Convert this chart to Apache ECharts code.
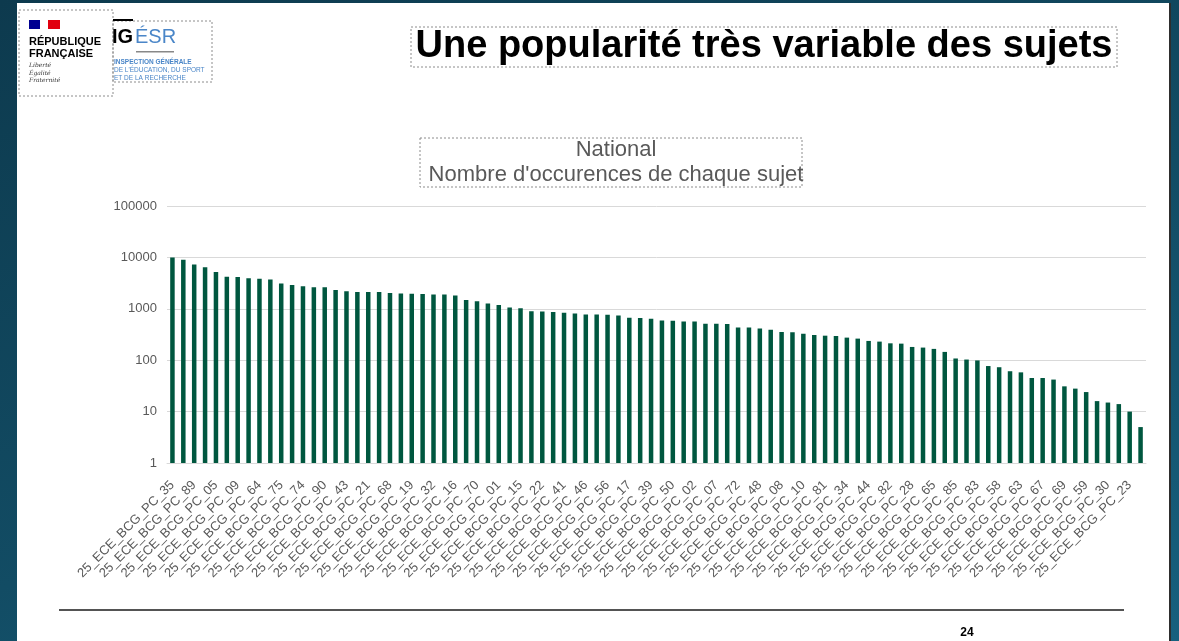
<!DOCTYPE html>
<html>
<head>
<meta charset="utf-8">
<script src="https://cdn.jsdelivr.net/npm/echarts@6/dist/echarts.min.js"></script>
<style>
  html, body { margin: 0; padding: 0; }
  body { width: 1179px; height: 641px; overflow: hidden;
    background: linear-gradient(160deg, #0d3a4e 0%, #124c64 55%, #17607e 100%); }
  #chart { width: 1179px; height: 641px; }
</style>
</head>
<body>
<div id="chart"></div>
<script>
// sujets, dans l'ordre décroissant (une étiquette sur deux est visible)
var sujets = [
  '35', '03', '89', '04', '05', '06', '09', '11', '64', '12',
  '75', '13', '74', '14', '90', '18', '43', '20', '21', '24',
  '68', '25', '19', '26', '32', '27', '16', '29', '70', '31',
  '01', '33', '15', '36', '22', '37', '41', '38', '46', '40',
  '56', '42', '17', '45', '39', '47', '50', '49', '02', '51',
  '07', '52', '72', '53', '48', '54', '08', '55', '10', '57',
  '81', '60', '34', '61', '44', '62', '82', '66', '28', '71',
  '65', '73', '85', '76', '83', '77', '58', '78', '63', '79',
  '67', '80', '69', '84', '59', '86', '30', '87', '23', '88'
];
var categories = sujets.map(function(s) { return '25_ECE_BCG_PC_' + s; });

var occurences = [
  10000, 9000, 7300, 6400, 5200, 4220, 4160, 3920, 3860, 3700,
  3090, 2910, 2750, 2630, 2620, 2330, 2200, 2130, 2130, 2120,
  2040, 1980, 1960, 1940, 1890, 1890, 1810, 1490, 1400, 1270,
  1190, 1060, 1030, 900, 887, 862, 837, 812, 777, 775,
  765, 743, 670, 660, 640, 594, 586, 568, 566, 512,
  510, 505, 435, 433, 416, 392, 353, 348, 328, 309,
  300, 296, 275, 263, 237, 230, 213, 210, 181, 176,
  166, 145, 108, 103, 99, 77, 73, 61, 58, 45,
  45, 42, 31, 28, 24, 16, 15, 14, 10, 5
];

var yTicks = [1, 10, 100, 1000, 10000, 100000];

var grisTexte = '#595959';
var vert = '#00573f';
var pointille = { stroke: '#8c8c8c', lineWidth: 1, lineDash: [2, 2] };

var myChart = echarts.init(document.getElementById('chart'));

var option = {
  animation: false,
  textStyle: { fontFamily: '"Liberation Sans", Arial, sans-serif' },
  title: {
    text: 'National\nNombre d\'occurences de chaque sujet',
    left: 611, textAlign: 'center', top: 132,
    textStyle: { color: grisTexte, fontSize: 22, fontWeight: 'normal', lineHeight: 25,
      fontFamily: '"Liberation Sans", Arial, sans-serif' }
  },
  grid: { left: 167, right: 33, top: 206, bottom: 178 },
  xAxis: {
    type: 'category',
    data: categories,
    axisTick: { show: false },
    axisLine: { lineStyle: { color: '#d9d9d9' } },
    axisLabel: { interval: 1, rotate: 45, fontSize: 13, color: grisTexte, margin: 20 }
  },
  yAxis: {
    type: 'log',
    logBase: 10,
    min: 1,
    max: 100000,
    axisLine: { show: false },
    axisTick: { show: false },
    splitLine: { lineStyle: { color: '#d9d9d9' } },
    axisLabel: {
      fontSize: 13, color: grisTexte, margin: 10,
      formatter: function(v) { return yTicks.indexOf(v) >= 0 ? String(v) : ''; }
    }
  },
  series: [{
    type: 'bar',
    data: occurences,
    barWidth: 4.5,
    itemStyle: { color: vert }
  }],
  graphic: [
    // diapositive
    { type: 'rect', z: -10, shape: { x: 17, y: 3, width: 1152, height: 650 }, style: { fill: '#ffffff' } },
    { type: 'rect', z: -9, shape: { x: 1169, y: 3, width: 2, height: 650 }, style: { fill: '#2e2e2e' } },
    // logo République française
    { type: 'rect', shape: { x: 19, y: 10, width: 94, height: 86 }, style: { fill: null, stroke: pointille.stroke, lineWidth: 1, lineDash: pointille.lineDash } },
    { type: 'rect', shape: { x: 29, y: 20, width: 11, height: 9 }, style: { fill: '#000091' } },
    { type: 'rect', shape: { x: 48, y: 20, width: 12, height: 9 }, style: { fill: '#e1000f' } },
    { type: 'text', style: { x: 29, y: 36, text: 'RÉPUBLIQUE\nFRANÇAISE', fill: '#000000', font: 'bold 11px "Liberation Sans", Arial', lineHeight: 12 } },
    { type: 'text', style: { x: 29, y: 62, text: 'Liberté\nÉgalité\nFraternité', fill: '#333333', font: 'italic 6px "DejaVu Serif", serif', lineHeight: 7.5 } },
    // logo IGÉSR
    { type: 'rect', shape: { x: 113, y: 21, width: 99, height: 61 }, style: { fill: null, stroke: pointille.stroke, lineWidth: 1, lineDash: pointille.lineDash } },
    { type: 'rect', shape: { x: 113, y: 19, width: 20, height: 2 }, style: { fill: '#000000' } },
    { type: 'text', style: { x: 112, y: 27, text: 'IG', fill: '#000000', font: 'bold 20px "Liberation Sans", Arial' } },
    { type: 'text', style: { x: 135, y: 27, text: 'ÉSR', fill: '#4a86c8', font: '20px "Liberation Sans", Arial' } },
    { type: 'rect', shape: { x: 136, y: 51, width: 38, height: 1.5 }, style: { fill: '#888888' } },
    { type: 'text', style: { x: 114, y: 59, text: 'INSPECTION GÉNÉRALE', fill: '#4a86c8', font: 'bold 6.5px "Liberation Sans", Arial' } },
    { type: 'text', style: { x: 114, y: 67, text: 'DE L\'ÉDUCATION, DU SPORT', fill: '#4a86c8', font: '6.5px "Liberation Sans", Arial' } },
    { type: 'text', style: { x: 114, y: 75, text: 'ET DE LA RECHERCHE', fill: '#4a86c8', font: '6.5px "Liberation Sans", Arial' } },
    // titre de la diapositive
    { type: 'rect', shape: { x: 411, y: 27, width: 706, height: 40 }, style: { fill: null, stroke: pointille.stroke, lineWidth: 1, lineDash: pointille.lineDash } },
    { type: 'text', style: { x: 764, y: 47, text: 'Une popularité très variable des sujets', fill: '#000000', font: 'bold 38px "Liberation Sans", Arial', align: 'center', verticalAlign: 'middle' } },
    // cadre du titre du graphique
    { type: 'rect', shape: { x: 420, y: 138, width: 382, height: 49 }, style: { fill: null, stroke: pointille.stroke, lineWidth: 1, lineDash: pointille.lineDash } },
    // pied de page
    { type: 'line', shape: { x1: 59, y1: 610, x2: 1124, y2: 610 }, style: { stroke: '#1a1a1a', lineWidth: 1.5 } },
    { type: 'text', style: { x: 967, y: 633, text: '24', fill: '#000000', font: 'bold 12px "Liberation Sans Narrow", "Liberation Sans", Arial', align: 'center', verticalAlign: 'middle' } }
  ]
};

myChart.setOption(option);
</script>
</body>
</html>
